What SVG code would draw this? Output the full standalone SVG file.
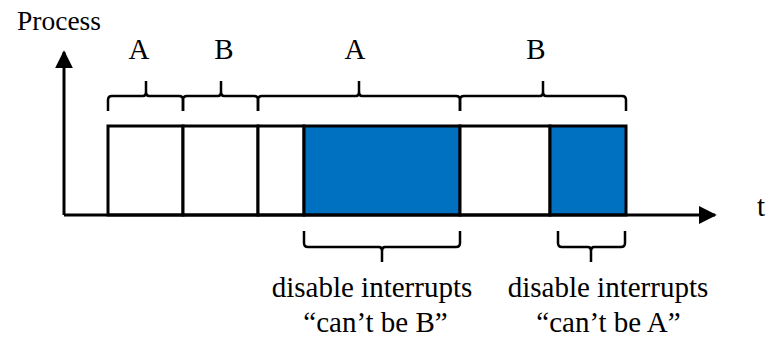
<svg xmlns="http://www.w3.org/2000/svg" width="769" height="339" viewBox="0 0 769 339">
  <defs>
    <marker id="arrow" viewBox="0 0 10 10" refX="9" refY="5" markerWidth="6" markerHeight="6" markerUnits="strokeWidth" orient="auto">
      <path d="M0,0 L10,5 L0,10 Z" fill="#000"/>
    </marker>
  </defs>
  <style>
    .lbl { font-family: "Times New Roman", "Liberation Serif", "DejaVu Serif", serif; font-size: 29px; fill: #000; }
    .axis-lbl { font-size: 27.5px; }
    .box { stroke: #000; stroke-width: 3; }
    .plain { fill: #fff; }
    .busy { fill: #0070C0; }
    .brace { fill: none; stroke: #000; stroke-width: 2.5; stroke-linejoin: round; }
    .axis { stroke: #000; stroke-width: 3; fill: none; }
  </style>
  <rect width="769" height="339" fill="#fff"/>

  <!-- time slices -->
  <g id="slice-a1"><rect class="box plain" x="108" y="126" width="75" height="89"/></g>
  <g id="slice-b1"><rect class="box plain" x="183" y="126" width="75" height="89"/></g>
  <g id="slice-a2"><rect class="box plain" x="258" y="126" width="46" height="89"/></g>
  <g id="slice-a2-locked"><rect class="box busy" x="304" y="126" width="156" height="89"/></g>
  <g id="slice-b2"><rect class="box plain" x="460" y="126" width="90" height="89"/></g>
  <g id="slice-b2-locked"><rect class="box busy" x="550" y="126" width="76" height="89"/></g>

  <!-- axes -->
  <g id="connectors">
    <line class="axis" x1="64" y1="215" x2="64" y2="52" marker-end="url(#arrow)"/>
    <line class="axis" x1="64" y1="215" x2="715" y2="215" marker-end="url(#arrow)"/>
  </g>

  <!-- upper braces: which process owns each span -->
  <g id="brace-a1">
    <path class="brace" d="M108,111 V100 Q108,96 112,96 H143 Q146,96 146,92 V81 M146,92 Q146,96 149,96 H179 Q183,96 183,100 V111"/>
    <text class="lbl" x="139" y="59" text-anchor="middle">A</text>
  </g>
  <g id="brace-b1">
    <path class="brace" d="M183,111 V100 Q183,96 187,96 H218 Q221,96 221,92 V81 M221,92 Q221,96 224,96 H254 Q258,96 258,100 V111"/>
    <text class="lbl" x="224" y="59" text-anchor="middle">B</text>
  </g>
  <g id="brace-a2">
    <path class="brace" d="M258,111 V100 Q258,96 262,96 H356 Q359,96 359,92 V81 M359,92 Q359,96 362,96 H456 Q460,96 460,100 V111"/>
    <text class="lbl" x="355" y="59" text-anchor="middle">A</text>
  </g>
  <g id="brace-b2">
    <path class="brace" d="M460,111 V100 Q460,96 464,96 H540 Q543,96 543,92 V81 M543,92 Q543,96 546,96 H622 Q626,96 626,100 V111"/>
    <text class="lbl" x="536" y="59" text-anchor="middle">B</text>
  </g>

  <!-- lower braces: interrupt-disabled regions -->
  <g id="brace-lock-a">
    <path class="brace" d="M304,231 V243 Q304,247 308,247 H379 Q382,247 382,251 V262 M382,251 Q382,247 385,247 H456 Q460,247 460,243 V231"/>
    <text class="lbl" x="372" y="297" text-anchor="middle">disable interrupts</text>
    <text class="lbl" x="375.5" y="332" text-anchor="middle">“can’t be B”</text>
  </g>
  <g id="brace-lock-b">
    <path class="brace" d="M558,231 V243 Q558,247 562,247 H588 Q591,247 591,251 V262 M591,251 Q591,247 594,247 H621 Q625,247 625,243 V231"/>
    <text class="lbl" x="608" y="297" text-anchor="middle">disable interrupts</text>
    <text class="lbl" x="608.5" y="332" text-anchor="middle">“can’t be A”</text>
  </g>

  <!-- axis labels -->
  <g id="label-process"><text class="lbl axis-lbl" x="17" y="30">Process</text></g>
  <g id="label-t"><text class="lbl" x="757" y="216">t</text></g>
</svg>
